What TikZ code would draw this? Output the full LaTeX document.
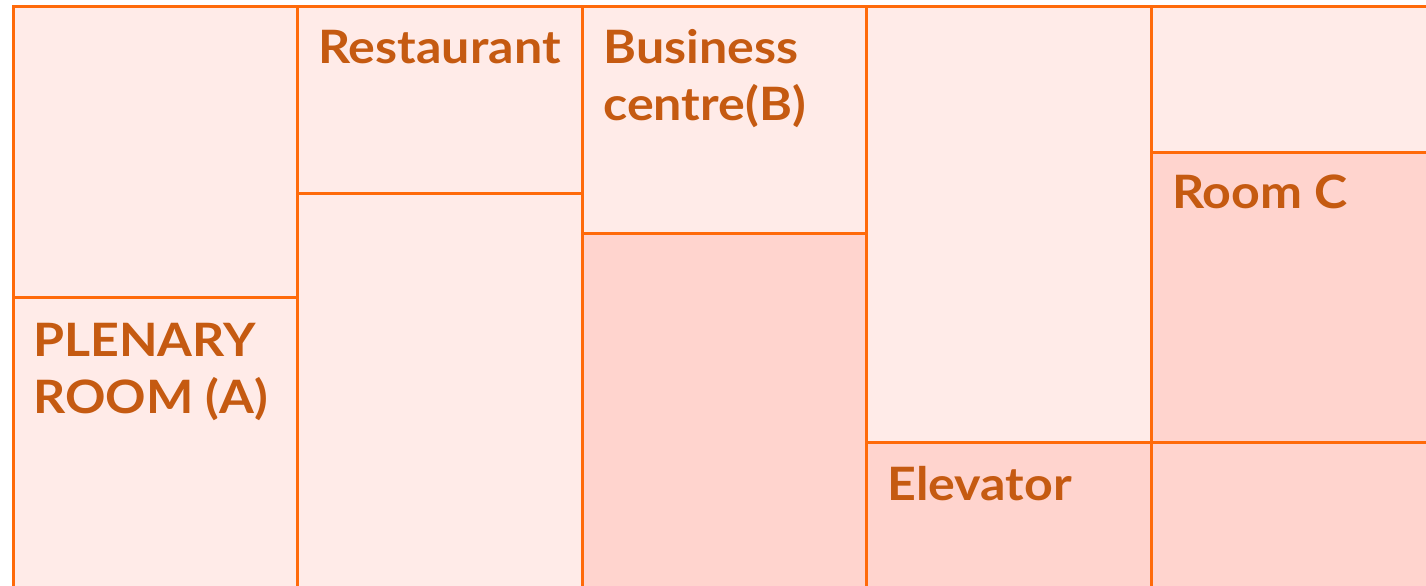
\documentclass[tikz,border=0pt]{standalone}
\usepackage{fontspec}
\setmainfont{Lato}[FakeStretch=1.09]
\begin{document}
\begin{tikzpicture}[x=0.5pt,y=-0.5pt]
\definecolor{wall}{HTML}{FF6A0A}
\definecolor{lightroom}{HTML}{FFEBE8}
\definecolor{darkroom}{HTML}{FFD4CE}
\definecolor{label}{HTML}{C55A11}
\tikzset{
  light/.style={fill=lightroom, draw=wall, line width=1.5pt},
  dark/.style={fill=darkroom, draw=wall, line width=1.5pt},
  roomlabel/.style={anchor=base west, inner sep=0pt, text=label, font=\fontsize{23}{28.5}\selectfont\bfseries, align=left}
}
\useasboundingbox (0,0) rectangle (1426,585);
\fill[white] (0,0) rectangle (1426,585);
\clip (0,0) rectangle (1426,585);
% column 1
\path[light] (13,6) rectangle (297,297);
\path[light] (13,297) rectangle (297,600);
% column 2
\path[light] (297,6) rectangle (582,193);
\path[light] (297,193) rectangle (582,600);
% column 3
\path[light] (582,6) rectangle (866,233);
\path[dark] (582,233) rectangle (866,600);
% column 4
\path[light] (866,6) rectangle (1151,442);
\path[dark] (866,442) rectangle (1151,600);
% column 5
\path[light] (1151,6) rectangle (1440,152);
\path[dark] (1151,152) rectangle (1440,442);
\path[dark] (1151,442) rectangle (1440,600);
% labels (base anchor = baseline of the last line)
\node[roomlabel] (plenary) at (33,413) {PLENARY\\ROOM (A)};
\node[roomlabel] (restaurant) at (318,63) {Restaurant};
\node[roomlabel] (business) at (603,120) {Business\\centre(B)};
\node[roomlabel] (roomc) at (1172,208) {Room C};
\node[roomlabel] (elevator) at (887,500) {Elevator};
\end{tikzpicture}
\end{document}
